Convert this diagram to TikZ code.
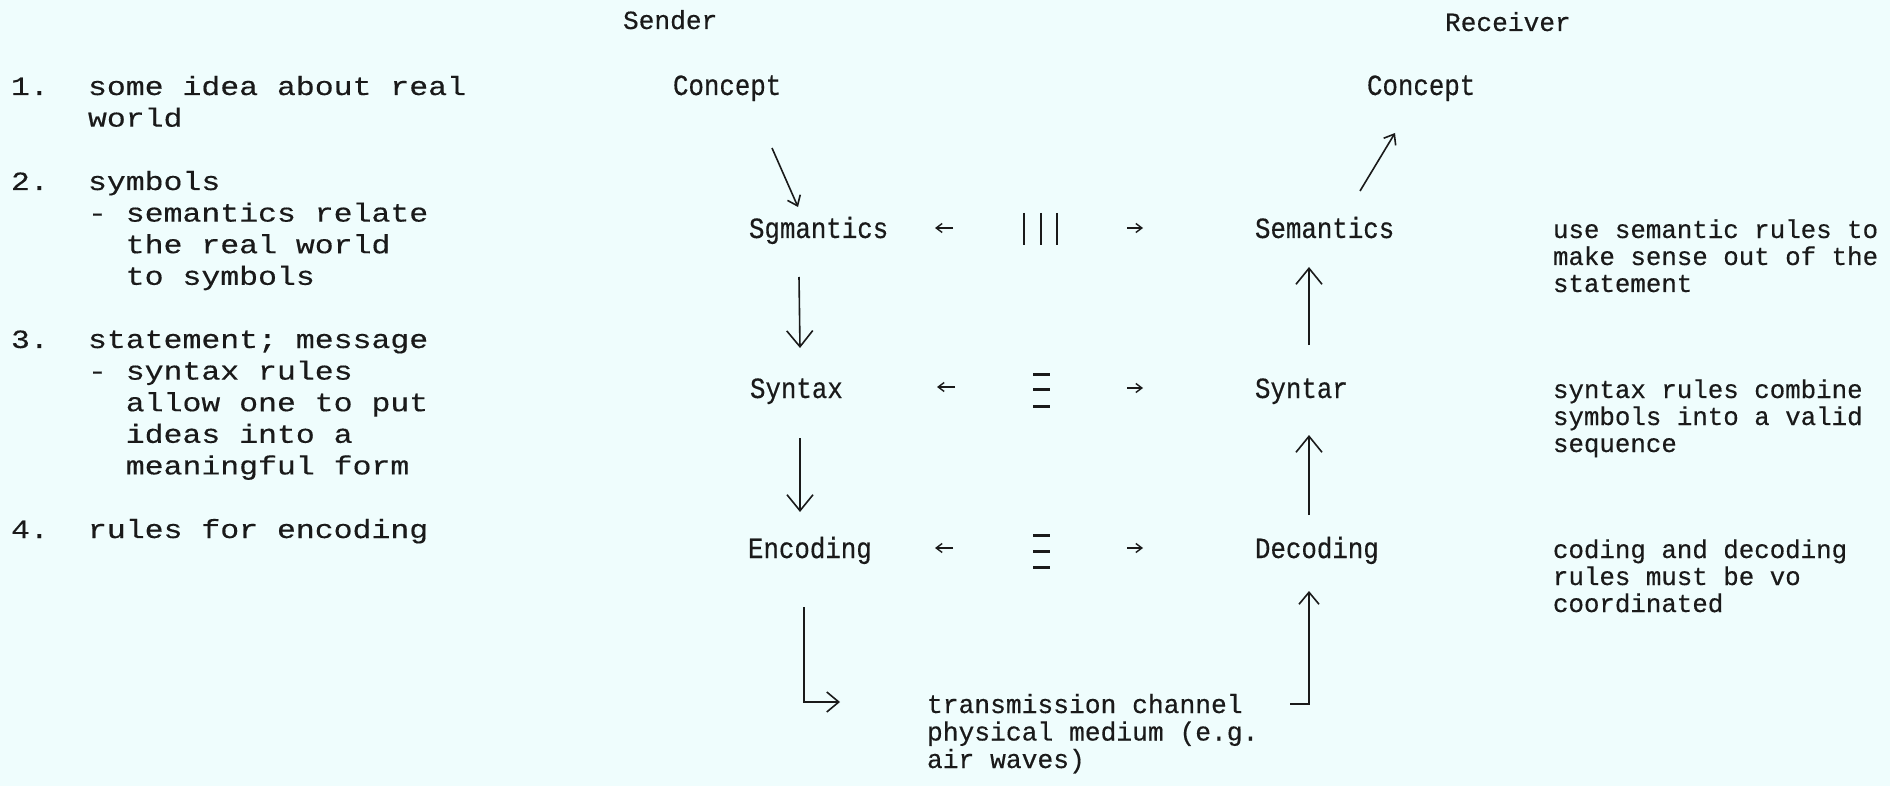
\documentclass[tikz,border=0pt]{standalone}
\usepackage{fontspec}
\usetikzlibrary{arrows.meta}
\newfontfamily\fpica[FakeStretch=1.2,FakeBold=0.4]{Liberation Mono}
\newfontfamily\felite[FakeStretch=0.88,FakeBold=0.4]{Liberation Mono}
\newfontfamily\fplain[FakeBold=0.4]{Liberation Mono}
\definecolor{paper}{HTML}{EFFDFD}
\definecolor{ink}{HTML}{1A1A1A}
\begin{document}
\begin{tikzpicture}[x=1pt,y=-1pt,
  every node/.style={inner sep=0pt, outer sep=0pt, text=ink},
  leftcol/.style={anchor=base west, align=left, font=\fpica\fontsize{26.25pt}{31.6pt}\selectfont},
  stage/.style={anchor=base west, font=\felite\fontsize{29.3pt}{31.6pt}\selectfont},
  headlbl/.style={anchor=base west, font=\fplain\fontsize{26.2pt}{31.6pt}\selectfont},
  notetxt/.style={anchor=base west, align=left, font=\fplain\fontsize{25.8pt}{27pt}\selectfont},
  chantxt/.style={anchor=base west, align=left, font=\fplain\fontsize{26.3pt}{27.5pt}\selectfont},
  flow/.style={draw=ink, line width=1.6pt, -{Straight Barb[length=16pt,width=26pt]}},
  flowsm/.style={draw=ink, line width=1.6pt, -{Straight Barb[length=12pt,width=20pt]}},
  slant/.style={draw=ink, line width=1.6pt, -{Straight Barb[length=9pt,width=14pt]}},
  sidearr/.style={draw=ink, line width=1.4pt, -{Straight Barb[length=6pt,width=9pt]}},
  bar/.style={draw=ink, line width=1.8pt},
  dashmark/.style={draw=ink, line width=3pt}
]
\useasboundingbox (0,0) rectangle (1890,786);
\fill[paper] (0,0) rectangle (1890,786);

% left column (multi-line nodes are anchored at the baseline of their last line)
\node[leftcol] (n1) at (11,95) {1.};
\node[leftcol] (t1) at (88,126.6) {some idea about real\\world};
\node[leftcol] (n2) at (11,190) {2.};
\node[leftcol] (t2) at (88,284.8) {symbols\\- semantics relate\\\hspace*{37.8pt}the real world\\\hspace*{37.8pt}to symbols};
\node[leftcol] (n3) at (11,348) {3.};
\node[leftcol] (t3) at (88,474.4) {statement; message\\- syntax rules\\\hspace*{37.8pt}allow one to put\\\hspace*{37.8pt}ideas into a\\\hspace*{37.8pt}meaningful form};
\node[leftcol] (n4) at (11,538) {4.};
\node[leftcol] (t4) at (88,538) {rules for encoding};

% headings
\node[headlbl] (snd) at (623,29) {Sender};
\node[headlbl] (rcv) at (1445,31) {Receiver};

% stages
\node[stage] (cL) at (673,95) {Concept};
\node[stage] (cR) at (1367,95) {Concept};
\node[stage] (sS) at (749,238) {Sgmantics};
\node[stage] (sY) at (750,398) {Syntax};
\node[stage] (sE) at (748,558) {Encoding};
\node[stage] (rS) at (1255,238) {Semantics};
\node[stage] (rY) at (1255,398) {Syntar};
\node[stage] (rE) at (1255,558) {Decoding};

% notes
\node[notetxt] (d1) at (1553,292) {use semantic rules to\\make sense out of the\\statement};
\node[notetxt] (d2) at (1553,452) {syntax rules combine\\symbols into a valid\\sequence};
\node[notetxt] (d3) at (1553,612) {coding and decoding\\rules must be vo\\coordinated};

% channel
\node[chantxt] (tx) at (927,768) {transmission channel\\physical medium (e.g.\\air waves)};

% connectors
\draw[slant] ([shift={(99,53)}]cL.base west) -- ([shift={(49,-31)}]sS.base west);
\draw[flow] ([shift={(50,39)}]sS.base west) -- ([shift={(50,-50)}]sY.base west);
\draw[flow] ([shift={(50,40)}]sY.base west) -- ([shift={(52,-46)}]sE.base west);
\draw[flowsm] ([shift={(56,49)}]sE.base west) |- ([shift={(-87,-66)}]tx.base west);
\draw[flowsm] ([shift={(363,-64)}]tx.base west) -| ([shift={(54,33)}]rE.base west);
\draw[flow] ([shift={(54,-43)}]rE.base west) -- ([shift={(54,37)}]rY.base west);
\draw[flow] ([shift={(54,-53)}]rY.base west) -- ([shift={(54,29)}]rS.base west);
\draw[slant] ([shift={(105,-47)}]rS.base west) -- ([shift={(28,38)}]cR.base west);

% correspondence marks
\coordinate (eqS) at (1041,229);
\coordinate (eqY) at (1041.5,390);
\coordinate (eqE) at (1041.5,551);
\foreach \dx in {-17,0,16} {
  \draw[bar] ([shift={(\dx,-16)}]eqS) -- ([shift={(\dx,16)}]eqS);
}
\foreach \dy in {-16,-1,16} {
  \draw[dashmark] ([shift={(-8.5,\dy)}]eqY) -- ([shift={(8.5,\dy)}]eqY);
}
\foreach \dy in {-16,0,16} {
  \draw[dashmark] ([shift={(-8.5,\dy)}]eqE) -- ([shift={(8.5,\dy)}]eqE);
}

% small side arrows
\coordinate (la1) at (944,228);
\coordinate (la2) at (946,387);
\coordinate (la3) at (944,548);
\coordinate (ra1) at (1135,228);
\coordinate (ra2) at (1135,388);
\coordinate (ra3) at (1135,548);
\foreach \p in {la1,la2,la3} {
  \draw[sidearr] ([xshift=9pt]\p) -- ([xshift=-9pt]\p);
}
\foreach \p in {ra1,ra2,ra3} {
  \draw[sidearr] ([xshift=-8pt]\p) -- ([xshift=8pt]\p);
}
\end{tikzpicture}
\end{document}
